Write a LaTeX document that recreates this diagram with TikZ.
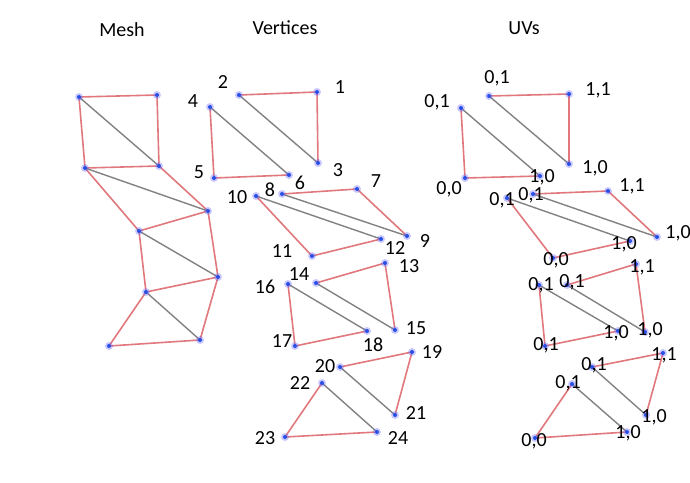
\documentclass[tikz,border=0pt]{standalone}
\usepackage{fontspec}
\setmainfont{Carlito}
\begin{document}
\begin{tikzpicture}[x=1pt,y=-1pt,
  redge/.style={draw={rgb,255:red,225;green,120;blue,125},line width=1.6pt},
  gedge/.style={draw={rgb,255:red,130;green,130;blue,130},line width=1.4pt},
  vdot/.style={circle,fill={rgb,255:red,40;green,80;blue,230},inner sep=0pt,minimum size=4pt},
  lbl/.style={font=\fontsize{20}{20}\selectfont,inner sep=0pt},
  ttl/.style={font=\fontsize{20}{20}\selectfont,inner sep=0pt}]
\useasboundingbox[fill=white] (0,0) rectangle (690,482);
\node[ttl] (t1) at (122,30) {Mesh};
\node[ttl] (t2) at (285,28) {Vertices};
\node[ttl] (t3) at (524,28) {UVs};
% mesh
\foreach \n/\x/\y in {A/79/97,B/157/95,C/85/168,D/159/166,E/208/211,F/139/231,G/218/277,H/146/292,I/109/346,J/200/340}
  \coordinate (m\n) at (\x,\y);
\foreach \a/\b in {A/B,B/D,A/C,C/D,D/E,C/F,F/E,E/G,F/H,H/G,G/J,H/I,I/J}
  \draw[redge] (m\a) -- (m\b);
\foreach \a/\b in {A/D,C/E,F/G,H/J}
  \draw[gedge] (m\a) -- (m\b);
\foreach \n in {A,B,C,D,E,F,G,H,I,J} \fill[blue!60!white,opacity=0.35] (m\n) circle (4);
\foreach \n in {A,B,C,D,E,F,G,H,I,J} \node[vdot] at (m\n) {};
% vertices and uvs
\foreach \n/\x/\y in {1/317/92,2/239/95,3/318/163,4/210/107,5/214/178,6/289/175,7/357/189,8/282/194,9/407/236,10/256/196,11/312/256,12/381/239,13/385/263,14/316/283,15/395/330,16/288/284,17/295/346,18/367/331,19/412/352,20/340/367,21/395/415,22/322/383,23/285/437,24/377/432}
  \coordinate (v\n) at (\x,\y);
\foreach \n/\x/\y in {1/569/94,2/489/96,3/569/164,4/461/108,5/465/178,6/540/176,7/608/191,8/533/194,9/657/237,10/507/198,11/553/258,12/630/241,13/636/264,14/567/285,15/645/332,16/539/285,17/545/346,18/618/331,19/663/353,20/592/367,21/646/415,22/572/384,23/535/438,24/627/432}
  \coordinate (u\n) at (\x,\y);
\foreach \p in {v,u}{
  \foreach \k in {0,6,12,18}{
    \pgfmathtruncatemacro\a{\k+1}\pgfmathtruncatemacro\b{\k+2}\pgfmathtruncatemacro\c{\k+3}
    \pgfmathtruncatemacro\d{\k+4}\pgfmathtruncatemacro\e{\k+5}\pgfmathtruncatemacro\f{\k+6}
    \draw[redge] (\p\b) -- (\p\a) -- (\p\c);
    \draw[redge] (\p\d) -- (\p\e) -- (\p\f);
    \draw[gedge] (\p\b) -- (\p\c);
    \draw[gedge] (\p\d) -- (\p\f);
  }
  \foreach \n in {1,...,24} \fill[blue!60!white,opacity=0.35] (\p\n) circle (4);
  \foreach \n in {1,...,24} \node[vdot] at (\p\n) {};
}
\foreach \n/\x/\y in {1/340/87,2/223/82,3/338/170,4/193/101,5/199/172,6/300/183,7/376/181,8/270/190,9/425/241,10/237/197,11/282/251,12/395/248,13/409/266,14/299/274,15/416/328,16/265/287,17/282/341,18/373/345,19/432/352,20/325/366,21/416/413,22/300/383,23/265/438,24/398/438}
  \node[lbl] (lv\n) at (\x,\y) {\n};
\foreach \n/\t/\x/\y in {1/{1,1}/598/90,2/{0,1}/497/78,3/{1,0}/595/168,4/{0,1}/437/102,5/{0,0}/449/189,6/{1,0}/542/177,7/{1,1}/632/186,8/{0,1}/531/195,9/{1,0}/678/233,10/{0,1}/502/200,11/{0,0}/556/260,12/{1,0}/624/244,13/{1,1}/642/267,14/{0,1}/572/282,15/{1,0}/650/330,16/{0,1}/541/285,17/{0,1}/546/345,18/{1,0}/616/333,19/{1,1}/664/355,20/{0,1}/594/365,21/{1,0}/654/417,22/{0,1}/568/383,23/{0,0}/534/441,24/{1,0}/628/433}
  \node[lbl] (lu\n) at (\x,\y) {\t};
\end{tikzpicture}
\end{document}
